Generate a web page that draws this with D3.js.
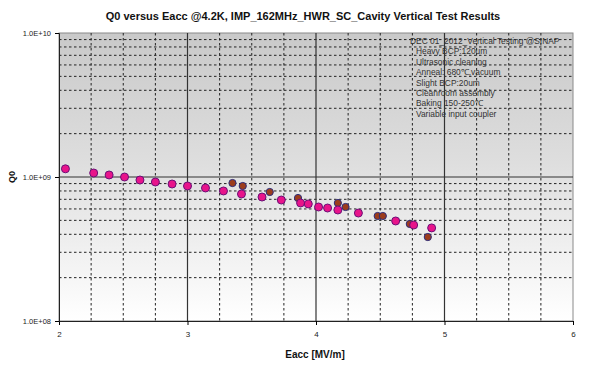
<!DOCTYPE html>
<html>
<head>
<meta charset="utf-8">
<script src="https://d3js.org/d3.v7.min.js"></script>
<style>
  body { margin: 0; background: #fff; }
  svg { display: block; font-family: Arial, "Liberation Sans", sans-serif; }
</style>
</head>
<body>
<svg id="chart" width="600" height="366"></svg>
<script>
  const pinkE = [2.05, 2.27, 2.39, 2.51, 2.63, 2.75, 2.88, 3.00, 3.14, 3.28, 3.42, 3.58, 3.73, 3.88, 3.94, 4.02, 4.09, 4.17, 4.33, 4.62, 4.76, 4.90];
  const pinkQ = [1.14e9, 1.066e9, 1.033e9, 1.0e9, 0.953e9, 0.923e9, 0.894e9, 0.866e9, 0.839e9, 0.80e9, 0.762e9, 0.726e9, 0.692e9, 0.66e9, 0.65e9, 0.619e9, 0.609e9, 0.59e9, 0.562e9, 0.495e9, 0.464e9, 0.443e9];
  const brownE = [3.35, 3.43, 3.64, 3.86, 4.17, 4.23, 4.48, 4.52, 4.73, 4.87];
  const brownQ = [0.908e9, 0.866e9, 0.787e9, 0.715e9, 0.66e9, 0.619e9, 0.536e9, 0.536e9, 0.472e9, 0.383e9];

  const xTicks = [2, 3, 4, 5, 6];
  const yTicks = [1e8, 1e9, 1e10];
  const yTickLabels = ["1.0E+08", "1.0E+09", "1.0E+10"];
  const notes = [
    "DEC 01_2012_Vertical Testing @SINAP",
    "Heavy BCP:120um",
    "Ultrasonic cleaning",
    "Anneal: 680\u2103,vacuum",
    "Slight  BCP:20um",
    "Cleanroom assembly",
    "Baking 150-250\u2103",
    "Variable input coupler"
  ];

  const svg = d3.select("#chart");
  const plot = { left: 59, right: 573, top: 33, bottom: 321 };

  const x = d3.scaleLinear().domain([2, 6]).range([plot.left, plot.right]);
  const y = d3.scaleLog().domain([1e8, 1e10]).range([plot.bottom, plot.top]);

  const grad = svg.append("defs").append("linearGradient")
      .attr("id", "bg").attr("x1", 0).attr("y1", 0).attr("x2", 0).attr("y2", 1);
  grad.append("stop").attr("offset", "0%").attr("stop-color", "#c9c9c9");
  grad.append("stop").attr("offset", "45%").attr("stop-color", "#dedede");
  grad.append("stop").attr("offset", "100%").attr("stop-color", "#ffffff");

  svg.append("rect")
      .attr("x", plot.left).attr("y", plot.top)
      .attr("width", plot.right - plot.left).attr("height", plot.bottom - plot.top)
      .attr("fill", "url(#bg)")
      .attr("stroke", "#8a8a8a").attr("stroke-width", 1);

  // minor grid
  const xMinor = d3.range(2.25, 6, 0.25).filter(v => Math.abs(v - Math.round(v)) > 0.01);
  svg.append("g").selectAll("line").data(xMinor).join("line")
      .attr("x1", d => x(d)).attr("x2", d => x(d))
      .attr("y1", plot.top).attr("y2", plot.bottom)
      .attr("stroke", "#222").attr("stroke-width", 1).attr("stroke-dasharray", "2.5,2.5");

  const yMinor = [];
  [1e8, 1e9].forEach(base => { for (let k = 2; k <= 9; k++) yMinor.push(base * k); });
  svg.append("g").selectAll("line").data(yMinor).join("line")
      .attr("x1", plot.left).attr("x2", plot.right)
      .attr("y1", d => y(d)).attr("y2", d => y(d))
      .attr("stroke", "#222").attr("stroke-width", 1).attr("stroke-dasharray", "2.5,2.5");

  // major grid
  svg.append("g").selectAll("line").data([3, 4, 5]).join("line")
      .attr("x1", d => x(d)).attr("x2", d => x(d))
      .attr("y1", plot.top).attr("y2", plot.bottom)
      .attr("stroke", "#333").attr("stroke-width", 1.2);
  svg.append("line")
      .attr("x1", plot.left).attr("x2", plot.right)
      .attr("y1", y(1e9)).attr("y2", y(1e9))
      .attr("stroke", "#333").attr("stroke-width", 1.2);

  // axes
  svg.append("g")
      .attr("transform", `translate(0,${plot.bottom})`)
      .call(d3.axisBottom(x).tickValues(xTicks).tickFormat(d3.format("d")).tickSize(4).tickPadding(6))
      .call(g => g.selectAll("text").attr("font-size", 8).attr("fill", "#222"))
      .call(g => g.select(".domain").attr("stroke", "#222"));

  svg.append("g")
      .attr("transform", `translate(${plot.left},0)`)
      .call(d3.axisLeft(y).tickValues(yTicks).tickFormat((d, i) => yTickLabels[i]).tickSize(4).tickPadding(4))
      .call(g => g.selectAll("text").attr("font-size", 7.5).attr("fill", "#222"))
      .call(g => g.select(".domain").attr("stroke", "#222"));

  // data
  const pink = pinkE.map((e, i) => ({ e, q: pinkQ[i] }));
  const brown = brownE.map((e, i) => ({ e, q: brownQ[i] }));

  svg.append("g").selectAll("circle").data(brown).join("circle")
      .attr("cx", d => x(d.e)).attr("cy", d => y(d.q)).attr("r", 3.6)
      .attr("fill", "#9c3c1c").attr("stroke", "#2c2c7a").attr("stroke-width", 1);

  svg.append("g").selectAll("circle").data(pink).join("circle")
      .attr("cx", d => x(d.e)).attr("cy", d => y(d.q)).attr("r", 4)
      .attr("fill", "#e8148a").attr("stroke", "#6a1078").attr("stroke-width", 1);

  // notes
  svg.append("g").selectAll("text").data(notes).join("text")
      .attr("x", (d, i) => i === 0 ? 410 : 416)
      .attr("y", (d, i) => 44 + i * 10.4)
      .attr("font-size", 8.4).attr("fill", "#333")
      .text(d => d);

  // titles
  svg.append("text")
      .attr("x", 303).attr("y", 20)
      .attr("text-anchor", "middle")
      .attr("font-size", 11).attr("font-weight", "bold").attr("fill", "#111")
      .text("Q0 versus Eacc @4.2K,  IMP_162MHz_HWR_SC_Cavity Vertical Test Results");

  svg.append("text")
      .attr("x", 315).attr("y", 358)
      .attr("text-anchor", "middle")
      .attr("font-size", 10).attr("font-weight", "bold").attr("fill", "#111")
      .text("Eacc [MV/m]");

  svg.append("text")
      .attr("transform", `translate(15,${y(1e9)}) rotate(-90)`)
      .attr("text-anchor", "middle")
      .attr("font-size", 9).attr("font-weight", "bold").attr("fill", "#111")
      .text("Q0");
</script>
</body>
</html>
